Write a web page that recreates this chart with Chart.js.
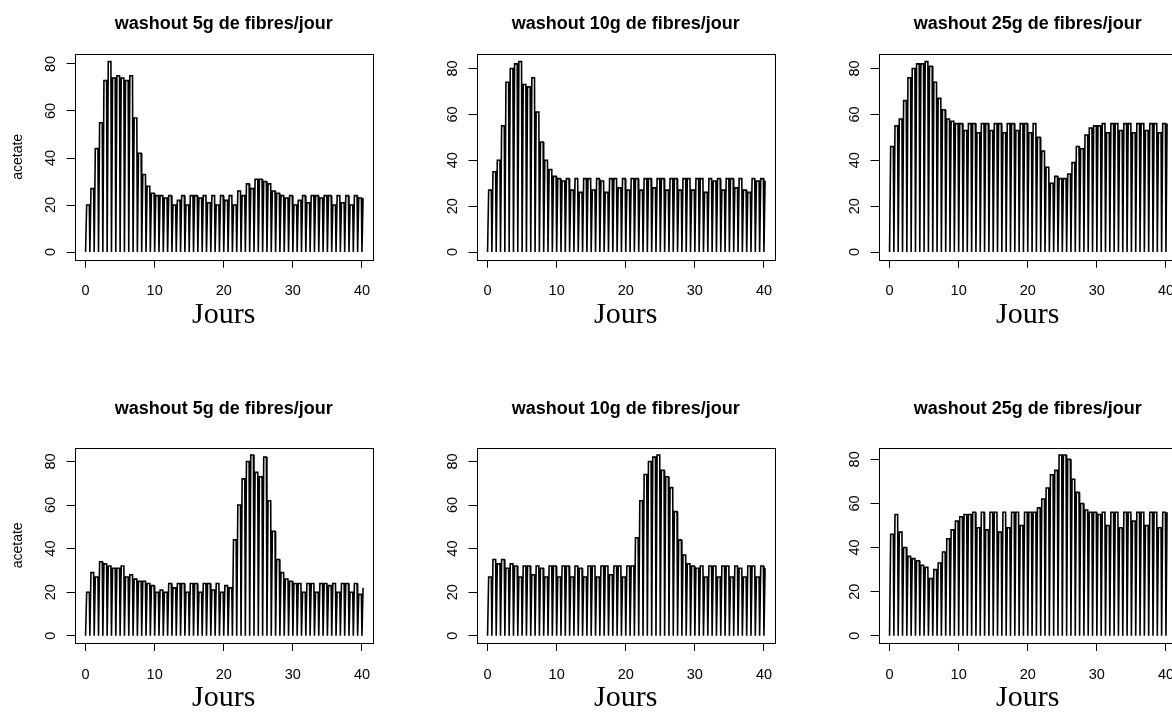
<!DOCTYPE html>
<html>
<head>
<meta charset="utf-8">
<script src="https://cdn.jsdelivr.net/npm/chart.js@4.4.1/dist/chart.umd.min.js"></script>
<style>
  html, body { margin: 0; padding: 0; background: #fff; overflow: hidden; width: 1172px; height: 715px; }
  .panel { position: absolute; width: 398px; }
</style>
</head>
<body>
<div class="panel" style="left:0px;top:0px;height:357px"><canvas id="c1"></canvas></div>
<div class="panel" style="left:402px;top:0px;height:357px"><canvas id="c2"></canvas></div>
<div class="panel" style="left:804px;top:0px;height:357px"><canvas id="c3"></canvas></div>
<div class="panel" style="left:0px;top:380px;height:335px"><canvas id="c4"></canvas></div>
<div class="panel" style="left:402px;top:380px;height:335px"><canvas id="c5"></canvas></div>
<div class="panel" style="left:804px;top:380px;height:335px"><canvas id="c6"></canvas></div>
<script>
const xTicks = [0, 10, 20, 30, 40];
const yTicks = [0, 20, 40, 60, 80];
const titles = ['washout 5g de fibres/jour', 'washout 10g de fibres/jour', 'washout 25g de fibres/jour'];
const xLabel = 'Jours';
const yLabel = 'acetate';

// days at which acetate is washed out (drops to 0)
const washDays = [0, 0.625, 1.25, 1.875, 2.5, 3.125, 3.75, 4.375, 5, 5.625, 6.25, 6.875, 7.5, 8.125, 8.75, 9.375,
  10, 10.625, 11.25, 11.875, 12.5, 13.125, 13.75, 14.375, 15, 15.625, 16.25, 16.875, 17.5, 18.125, 18.75, 19.375,
  20, 20.625, 21.25, 21.875, 22.5, 23.125, 23.75, 24.375, 25, 25.625, 26.25, 26.875, 27.5, 28.125, 28.75, 29.375,
  30, 30.625, 31.25, 31.875, 32.5, 33.125, 33.75, 34.375, 35, 35.625, 36.25, 36.875, 37.5, 38.125, 38.75, 39.375, 40];

// acetate level reached after each washout
const top5g = [20, 27, 44, 55, 73, 81, 74, 75, 74, 73, 75, 57, 42, 33, 28, 25, 24, 24, 23, 24, 20, 22, 24, 20, 24, 24,
  23, 24, 21, 24, 20, 24, 22, 24, 20, 26, 24, 29, 27, 31, 31, 30, 29, 26, 25, 24, 23, 24, 20, 22, 24, 21, 24, 24, 23,
  24, 24, 20, 24, 21, 24, 20, 24, 23, 23];
const top10g = [27, 35, 40, 55, 74, 80, 82, 83, 73, 72, 76, 61, 48, 40, 36, 33, 32, 31, 32, 27, 32, 26, 32, 32, 27, 32,
  31, 26, 32, 32, 28, 32, 27, 32, 32, 27, 32, 32, 28, 32, 32, 27, 32, 32, 27, 32, 32, 27, 32, 32, 26, 32, 31, 32, 27,
  32, 32, 28, 32, 27, 26, 32, 31, 32, 31];
const top25g = [46, 55, 58, 66, 76, 80, 82, 82, 83, 81, 74, 67, 62, 58, 57, 56, 56, 53, 56, 56, 52, 56, 56, 53, 56, 56,
  52, 56, 56, 53, 56, 56, 52, 56, 50, 44, 37, 30, 33, 32, 32, 34, 39, 46, 45, 51, 54, 55, 55, 56, 52, 56, 56, 53, 56,
  56, 52, 56, 56, 53, 56, 56, 52, 56, 56];
const bottom5g = [20, 29, 27, 34, 33, 32, 31, 31, 32, 27, 28, 26, 25, 25, 24, 23, 20, 21, 20, 24, 22, 24, 24, 20, 24, 24,
  20, 24, 24, 21, 24, 20, 23, 22, 44, 60, 72, 80, 83, 75, 73, 82, 62, 48, 35, 29, 26, 25, 24, 24, 20, 24, 24, 20, 24,
  24, 23, 24, 20, 24, 24, 20, 24, 19, 22];
const bottom10g = [27, 35, 33, 35, 31, 33, 32, 27, 32, 32, 28, 32, 31, 27, 32, 32, 27, 32, 32, 27, 32, 31, 27, 32, 32, 27,
  32, 32, 28, 32, 32, 27, 32, 32, 45, 62, 74, 80, 82, 83, 76, 73, 68, 57, 44, 37, 33, 32, 31, 32, 27, 32, 32, 27, 32,
  32, 27, 32, 31, 27, 32, 32, 27, 32, 31];
const bottom25g = [46, 55, 47, 40, 36, 35, 34, 32, 31, 26, 30, 33, 38, 44, 48, 52, 54, 55, 55, 56, 49, 56, 48, 56, 56, 47,
  56, 49, 56, 56, 50, 56, 56, 56, 58, 62, 67, 73, 75, 82, 82, 80, 71, 65, 60, 57, 56, 56, 55, 56, 50, 56, 56, 49, 56,
  56, 52, 56, 56, 50, 56, 56, 49, 56, 56];

const sans = '"Liberation Sans", Arial, Helvetica, sans-serif';
const serif = '"Liberation Serif", "Times New Roman", serif';

// drop to 0 at every wash day, climb back to the level, hold it
function buildTrace(levels) {
  const pts = [];
  for (let k = 0; k < washDays.length; k++) {
    if (k > 0) pts.push({ x: washDays[k] - 0.08, y: levels[k - 1] });
    pts.push({ x: washDays[k], y: 0 });
    pts.push({ x: washDays[k] + 0.16, y: levels[k] });
  }
  return pts;
}

// R style box, rotated y labels and y title
const rFrame = {
  id: 'rFrame',
  afterDraw(chart, args, opts) {
    const { ctx, chartArea: a } = chart;
    const ys = chart.scales.y;
    ctx.save();
    ctx.strokeStyle = '#000';
    ctx.lineWidth = 1;
    const l = Math.round(a.left) + 0.5, t = Math.round(a.top) + 0.5;
    ctx.strokeRect(l, t, Math.round(a.right) - Math.round(a.left), Math.round(a.bottom) - Math.round(a.top));
    ctx.fillStyle = '#000';
    ctx.textAlign = 'center';
    ctx.textBaseline = 'middle';
    ctx.font = '14.5px ' + sans;
    yTicks.forEach(v => {
      ctx.save();
      ctx.translate(a.left - 24, ys.getPixelForValue(v));
      ctx.rotate(-Math.PI / 2);
      ctx.fillText(String(v), 0, 0);
      ctx.restore();
    });
    if (opts.ylab) {
      ctx.font = '14px ' + sans;
      ctx.translate(18, (a.top + a.bottom) / 2);
      ctx.rotate(-Math.PI / 2);
      ctx.fillText(yLabel, 0, 0);
    }
    ctx.restore();
  }
};

const rows = [
  { titlePad: { top: 13, bottom: 19.4 }, padBottom: 25.3 },
  { titlePad: { top: 18, bottom: 28.1 }, padBottom: 0 }
];

const panels = [
  { id: 'c1', row: 0, col: 0, levels: top5g },
  { id: 'c2', row: 0, col: 1, levels: top10g },
  { id: 'c3', row: 0, col: 2, levels: top25g },
  { id: 'c4', row: 1, col: 0, levels: bottom5g },
  { id: 'c5', row: 1, col: 1, levels: bottom10g },
  { id: 'c6', row: 1, col: 2, levels: bottom25g }
];

panels.forEach(p => {
  const row = rows[p.row];
  const peak = Math.max(...p.levels);
  const tickGrid = { display: true, drawOnChartArea: false, drawTicks: true, tickLength: 8, color: '#000', lineWidth: 1 };
  new Chart(document.getElementById(p.id), {
    type: 'line',
    data: {
      datasets: [{
        data: buildTrace(p.levels),
        borderColor: '#000',
        borderWidth: 1.6,
        pointRadius: 0,
        tension: 0,
        fill: false
      }]
    },
    options: {
      responsive: true,
      maintainAspectRatio: false,
      animation: false,
      layout: { padding: { left: 54.5, right: 25, top: 0, bottom: row.padBottom } },
      plugins: {
        legend: { display: false },
        tooltip: { enabled: false },
        title: {
          display: true,
          text: titles[p.col],
          fullSize: false,
          color: '#000',
          font: { family: sans, size: 18, weight: 'bold', lineHeight: 1.2 },
          padding: row.titlePad
        },
        rFrame: { ylab: p.col === 0 }
      },
      scales: {
        x: {
          type: 'linear',
          min: -1.6,
          max: 41.6,
          afterBuildTicks: s => { s.ticks = xTicks.map(v => ({ value: v })); },
          afterFit: s => { s.height = 72; },
          grid: tickGrid,
          border: { display: false },
          ticks: { color: '#000', font: { family: sans, size: 14.5 }, padding: 15, maxRotation: 0, autoSkip: false },
          title: {
            display: true,
            text: xLabel,
            color: '#000',
            font: { family: serif, size: 30, lineHeight: 1 },
            padding: { top: 0, bottom: 2 }
          }
        },
        y: {
          type: 'linear',
          min: -0.04 * peak,
          max: 1.04 * peak,
          afterBuildTicks: s => { s.ticks = yTicks.map(v => ({ value: v })); },
          afterFit: s => { s.width = 20; },
          grid: tickGrid,
          border: { display: false },
          ticks: { display: false }
        }
      }
    },
    plugins: [rFrame]
  });
});
</script>
</body>
</html>
